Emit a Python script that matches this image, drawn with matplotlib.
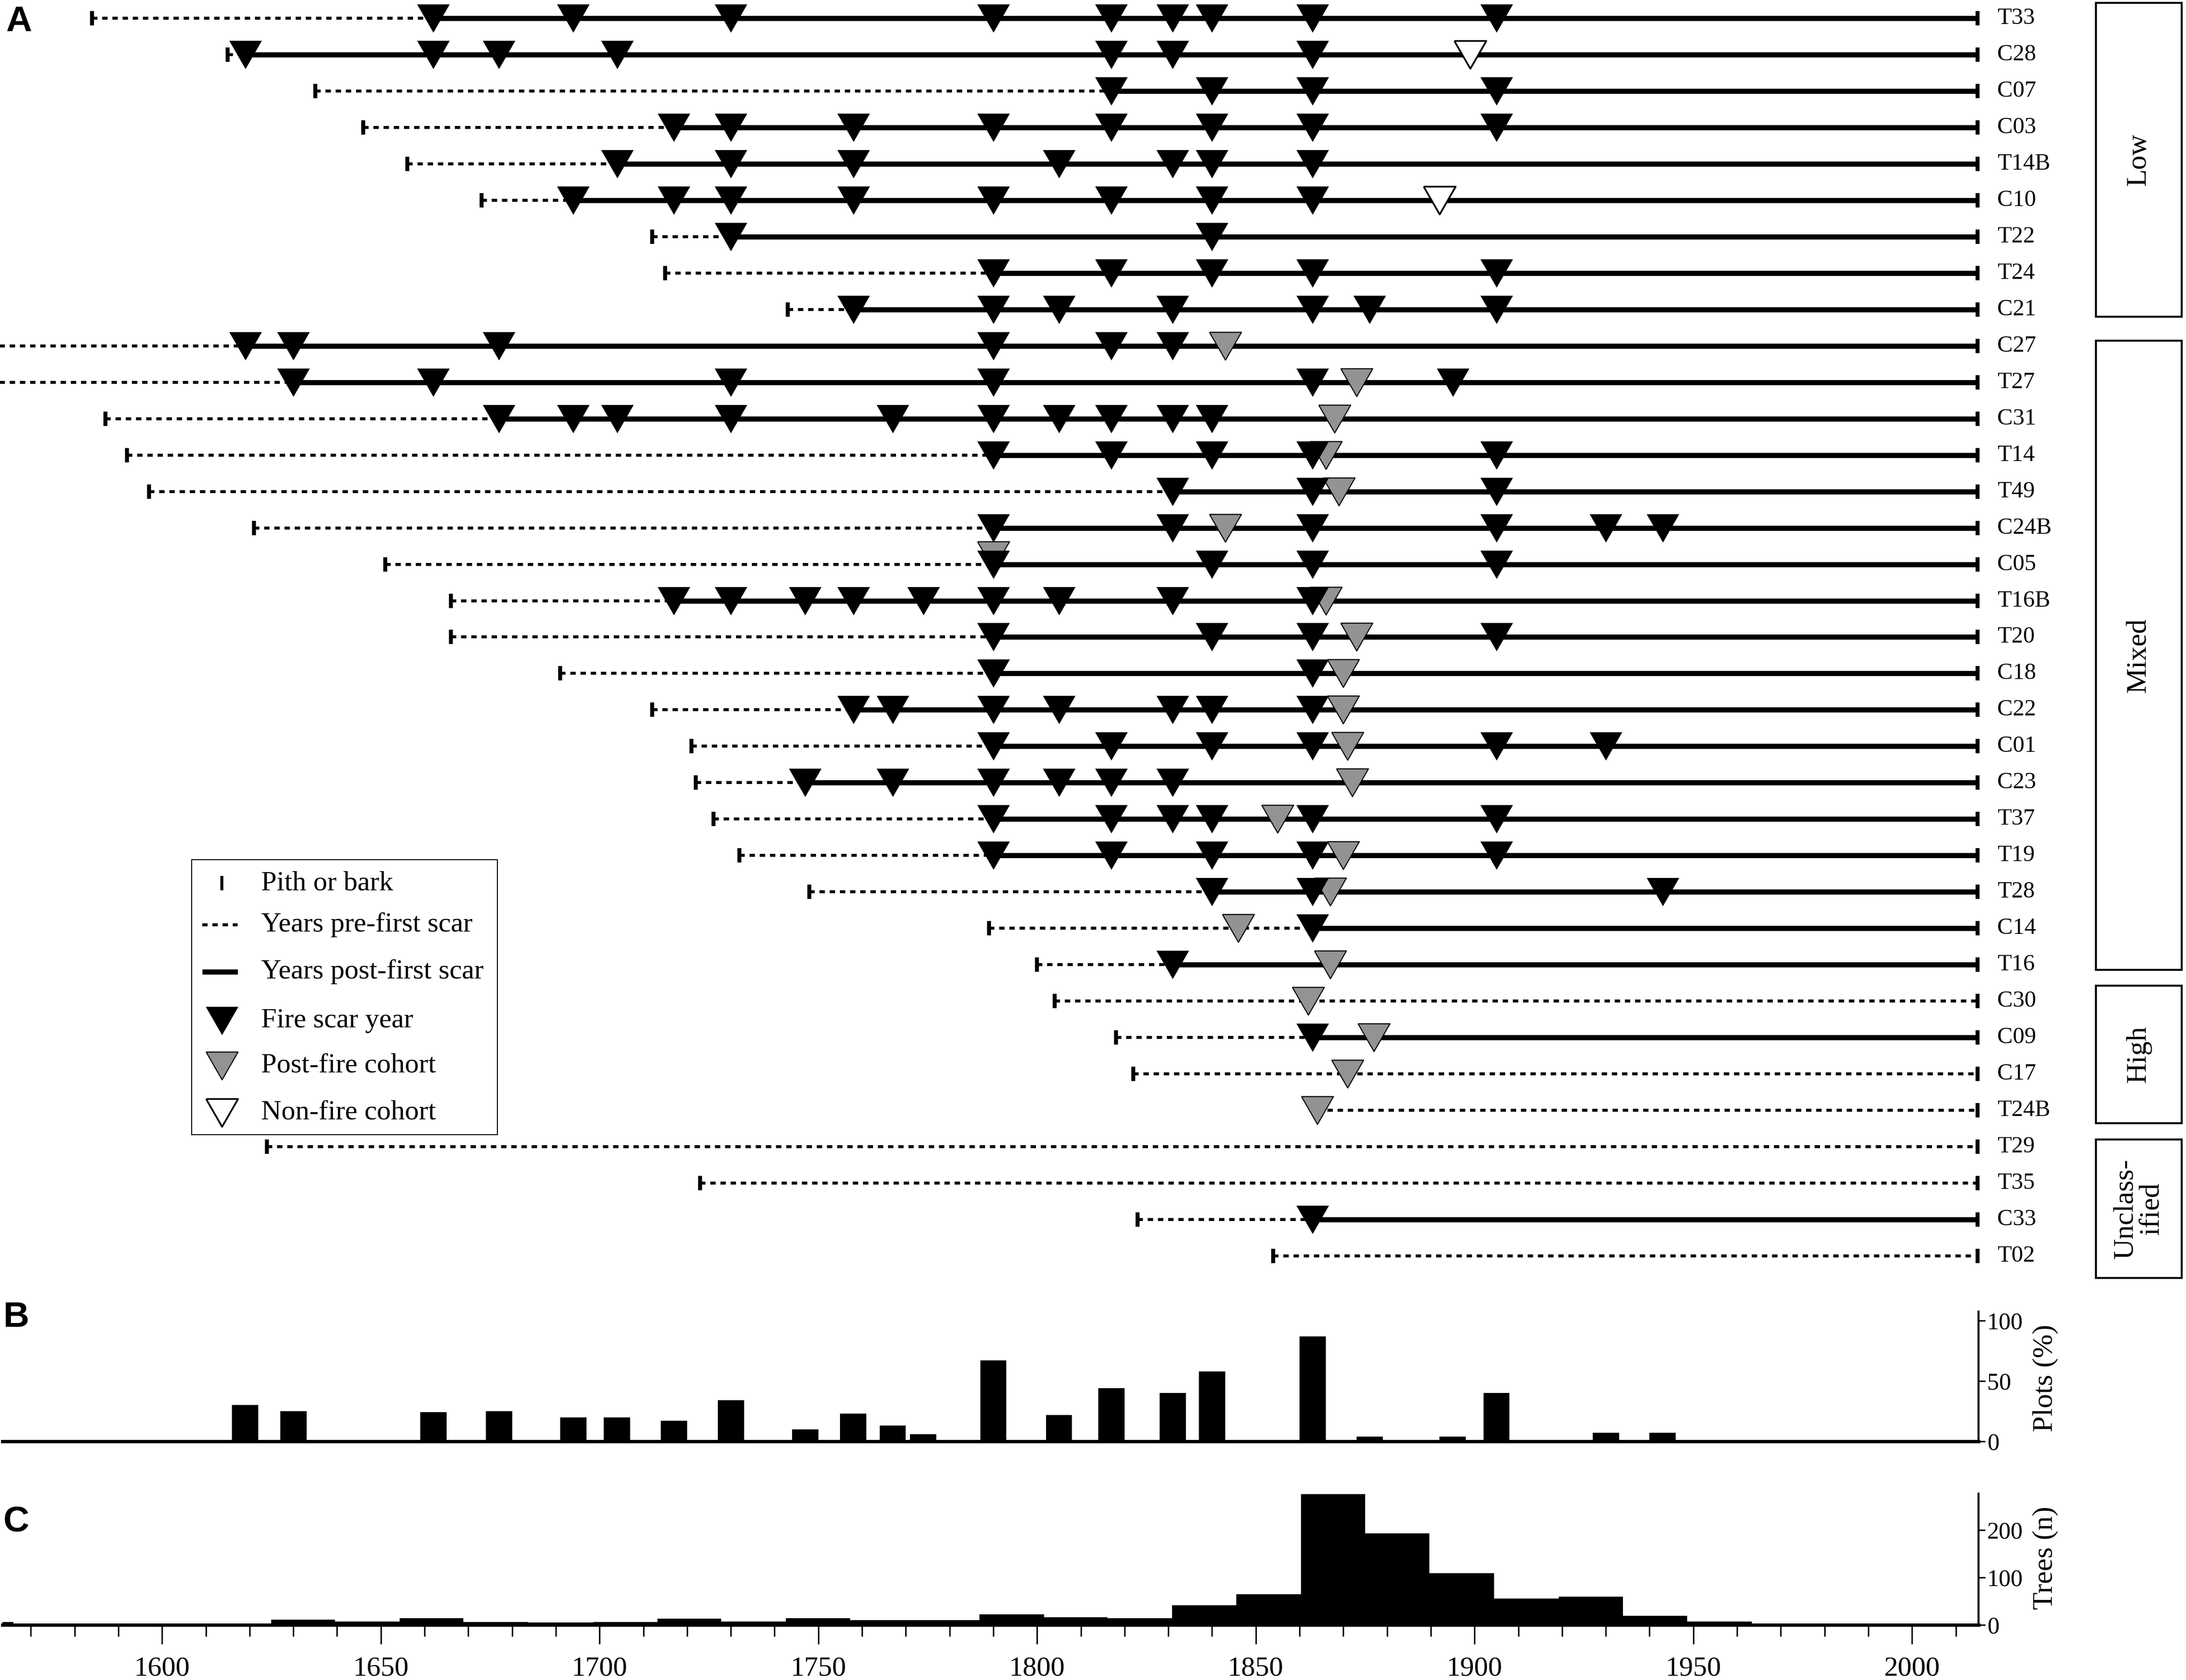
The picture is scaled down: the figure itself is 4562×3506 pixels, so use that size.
# Fire history figure: per-tree scar record (A), plots scarred (B), tree recruitment (C)

from __future__ import annotations

from typing import List, Optional

import matplotlib
matplotlib.use("Agg")
import matplotlib.pyplot as plt
from matplotlib.lines import Line2D
from matplotlib.patches import Rectangle

OUT_PNG = "out.png"
FIG_W, FIG_H = 4562, 3506
DPI = 100

BARK_YEAR = 2015

TREES: List[str] = [
    "T33", "C28", "C07", "C03", "T14B", "C10", "T22", "T24", "C21",
    "C27", "T27", "C31", "T14", "T49", "C24B", "C05", "T16B", "T20", "C18",
    "C22", "C01", "C23", "T37", "T19", "T28", "C14", "T16",
    "C30", "C09", "C17", "T24B",
    "T29", "T35", "C33", "T02",
]
# None = no pith mark (series starts at the cohort triangle)
PITH: List[Optional[int]] = [
    1584, 1615, 1635, 1646, 1656, 1673, 1712, 1715, 1743,
    1550, 1550, 1587, 1592, 1597, 1621, 1651, 1666, 1666, 1691,
    1712, 1721, 1722, 1726, 1732, 1748, 1789, 1800,
    1804, 1818, 1822, None,
    1624, 1723, 1823, 1854,
]
SCARS: List[List[int]] = [
    [1662, 1694, 1730, 1790, 1817, 1831, 1840, 1863, 1905],
    [1619, 1662, 1677, 1704, 1817, 1831, 1863],
    [1817, 1840, 1863, 1905],
    [1717, 1730, 1758, 1790, 1817, 1840, 1863, 1905],
    [1704, 1730, 1758, 1805, 1831, 1840, 1863],
    [1694, 1717, 1730, 1758, 1790, 1817, 1840, 1863],
    [1730, 1840],
    [1790, 1817, 1840, 1863, 1905],
    [1758, 1790, 1805, 1831, 1863, 1876, 1905],
    [1619, 1630, 1677, 1790, 1817, 1831],
    [1630, 1662, 1730, 1790, 1863, 1895],
    [1677, 1694, 1704, 1730, 1767, 1790, 1805, 1817, 1831, 1840],
    [1790, 1817, 1840, 1863, 1905],
    [1831, 1863, 1905],
    [1790, 1831, 1863, 1905, 1930, 1943],
    [1790, 1840, 1863, 1905],
    [1717, 1730, 1747, 1758, 1774, 1790, 1805, 1831, 1863],
    [1790, 1840, 1863, 1905],
    [1790, 1863],
    [1758, 1767, 1790, 1805, 1831, 1840, 1863],
    [1790, 1817, 1840, 1863, 1905, 1930],
    [1747, 1767, 1790, 1805, 1817, 1831],
    [1790, 1817, 1831, 1840, 1863, 1905],
    [1790, 1817, 1840, 1863, 1905],
    [1840, 1863, 1943],
    [1863],
    [1831],
    [],
    [1863],
    [],
    [],
    [],
    [],
    [1863],
    [],
]
POST_FIRE: List[List[int]] = [
    [], [], [], [], [], [], [], [], [],
    [1843], [1873], [1868], [1866], [1869], [1843], [1790], [1866], [1873], [1870],
    [1870], [1871], [1872], [1855], [1870], [1867], [1846], [1867],
    [1862], [1877], [1871], [1864],
    [], [], [], [],
]
NON_FIRE: List[List[int]] = [[] for _ in TREES]
NON_FIRE[1] = [1899]
NON_FIRE[5] = [1892]

GROUPS = ["Low", "Mixed", "High", "Unclass-\nified"]
# box extent in row units (top, bottom)
GROUP_SPANS = [(-0.42, 8.2), (8.86, 26.14), (26.58, 30.35), (30.8, 34.6)]

PLOT_YEARS = [1619, 1630, 1662, 1677, 1694, 1704, 1717, 1730, 1747, 1758, 1767, 1774,
              1790, 1805, 1817, 1831, 1840, 1863, 1876, 1895, 1905, 1930, 1943]
PLOT_PCT = [30, 25, 24, 25, 20, 20, 17, 34, 10, 23, 13, 6,
            67, 22, 44, 40, 58, 87, 4, 4, 40, 7, 7]

COHORT_EDGES = [1551.3, 1566.0, 1580.7, 1595.4, 1610.2, 1624.9, 1639.5, 1654.3, 1668.9,
                1683.7, 1698.5, 1713.2, 1727.8, 1742.6, 1757.3, 1772.0, 1786.8, 1801.6,
                1816.1, 1830.9, 1845.5, 1860.3, 1875.0, 1889.7, 1904.5, 1919.2, 1933.9,
                1948.6, 1963.4, 1978.1, 1992.8, 2007.6]
COHORT_N = [6, 0, 0, 0, 0, 11, 7, 14, 6, 5, 6, 13, 7, 14, 10, 10, 22, 16,
            14, 41, 65, 276, 193, 109, 56, 60, 19, 7, 0, 0, 0]

GRAY = "#939393"
SERIF = "Liberation Serif"
SANS = "Liberation Sans"

# pixel layout of the reference
PX_PER_YEAR = 9.13
X_LEFT_PX, X_LEFT_YEAR = 5, 1563.5
ROW0_PX, ROW_STEP_PX = 38, 75.97

# wide, flat down-pointing triangle (like the original scar symbol)
TRI = [(-1.15, 1.0), (1.15, 1.0), (0.0, -1.0), (-1.15, 1.0)]
TRI_MS = 48
DOT_STYLE = dict(color="black", lw=4.5, linestyle=(0, (1.8, 1.6)), dash_capstyle="butt")
SOLID_STYLE = dict(color="black", lw=7.7, solid_capstyle="butt")
TICK_STYLE = dict(marker="|", ms=21.6, mew=6.0, color="black", linestyle="none")

plt.rcParams["font.family"] = "serif"
plt.rcParams["font.serif"] = [SERIF, "DejaVu Serif"]


def rect_px(left, top, right, bottom):
    return [left / FIG_W, 1 - bottom / FIG_H, (right - left) / FIG_W, (bottom - top) / FIG_H]


def fpt(x, y):
    return x / FIG_W, 1 - y / FIG_H


def tri_kw(face, edge_w):
    return dict(marker=TRI, ms=TRI_MS, mfc=face, mec="black", mew=edge_w, linestyle="none")


def draw_trees(ax):
    for i, name in enumerate(TREES):
        scars, post, non = SCARS[i], POST_FIRE[i], NON_FIRE[i]
        pith = PITH[i]
        start = pith if pith is not None else min(post + non)
        first = min(scars) if scars else BARK_YEAR
        if first > start:
            ax.plot([start, first], [i, i], zorder=2, **DOT_STYLE)
        if scars:
            ax.plot([first, BARK_YEAR], [i, i], zorder=2, **SOLID_STYLE)
        if pith is not None:
            ax.plot([pith], [i], zorder=2, **TICK_STYLE)
        ax.plot([BARK_YEAR], [i], zorder=2, **TICK_STYLE)

        yoff = -0.24 if name == "C05" else 0.0
        if post:
            ax.plot(post, [i + yoff] * len(post), zorder=3, **tri_kw(GRAY, 1.6))
        if scars:
            ax.plot(scars, [i] * len(scars), zorder=4, **tri_kw("black", 0.5))
        if non:
            ax.plot(non, [i] * len(non), zorder=4, **tri_kw("white", 2.6))
        ax.text(BARK_YEAR + 4.5, i, name, ha="left", va="center", fontsize=35)


def draw_groups(ax):
    x0 = X_LEFT_YEAR + (4374 - X_LEFT_PX) / PX_PER_YEAR
    x1 = X_LEFT_YEAR + (4553 - X_LEFT_PX) / PX_PER_YEAR
    for label, (top, bottom) in zip(GROUPS, GROUP_SPANS):
        ax.add_patch(Rectangle((x0, top), x1 - x0, bottom - top, fill=False,
                               lw=3, edgecolor="black", clip_on=False))
        ax.text((x0 + x1) / 2, (top + bottom) / 2, label, rotation=90, ha="center",
                va="center", fontsize=43, linespacing=1.0, multialignment="center")


def draw_legend(fig):
    tr = fig.transFigure
    fig.add_artist(Rectangle(fpt(400, 2368), 638 / FIG_W, 574 / FIG_H, transform=tr,
                             facecolor="white", edgecolor="black", lw=1.5, zorder=5))
    rows_y = [1843, 1930, 2028, 2130, 2224, 2322]
    labels = ["Pith or bark", "Years pre-first scar", "Years post-first scar",
              "Fire scar year", "Post-fire cohort", "Non-fire cohort"]
    mx, lx0, lx1, tx = 463, 422, 496, 545
    for y, label in zip(rows_y, labels):
        fig.text(*fpt(tx, y), label, ha="left", va="center", fontsize=42, zorder=6)
    fig.add_artist(Line2D(*zip(fpt(mx, rows_y[0])), transform=tr, zorder=6,
                          **dict(TICK_STYLE, mew=4.5)))
    (a, b), (c, d) = fpt(lx0, rows_y[1]), fpt(lx1, rows_y[1])
    fig.add_artist(Line2D([a, c], [b, d], transform=tr, zorder=6, **DOT_STYLE))
    (a, b), (c, d) = fpt(lx0, rows_y[2]), fpt(lx1, rows_y[2])
    fig.add_artist(Line2D([a, c], [b, d], transform=tr, zorder=6, **SOLID_STYLE))
    for y, fc, ew in zip(rows_y[3:], ["black", GRAY, "white"], [0.5, 1.6, 2.6]):
        fig.add_artist(Line2D(*zip(fpt(mx, y)), transform=tr, zorder=6, **tri_kw(fc, ew)))


def style_right_axis(ax):
    for s in ("top", "left"):
        ax.spines[s].set_visible(False)
    ax.spines["right"].set_linewidth(3)
    ax.spines["bottom"].set_linewidth(5)
    ax.yaxis.tick_right()
    ax.tick_params(axis="y", direction="out", length=10, width=2.2, pad=3, labelsize=36)
    ax.set_xlim(X_LEFT_YEAR, X_LEFT_YEAR + (4129 - X_LEFT_PX) / PX_PER_YEAR)


def main() -> None:
    fig = plt.figure(figsize=(FIG_W / DPI, FIG_H / DPI), dpi=DPI)

    # panel A
    ax_a = fig.add_axes(rect_px(0, 0, FIG_W, 2680))
    ax_a.set_xlim(X_LEFT_YEAR - X_LEFT_PX / PX_PER_YEAR,
                  X_LEFT_YEAR + (FIG_W - X_LEFT_PX) / PX_PER_YEAR)
    ax_a.set_ylim((2680 - ROW0_PX) / ROW_STEP_PX, -ROW0_PX / ROW_STEP_PX)
    ax_a.axis("off")
    draw_trees(ax_a)
    draw_groups(ax_a)
    draw_legend(fig)

    # panel B
    ax_b = fig.add_axes(rect_px(X_LEFT_PX, 2737, 4129, 3008))
    ax_b.bar(PLOT_YEARS, PLOT_PCT, width=6, color="black", zorder=2)
    style_right_axis(ax_b)
    ax_b.set_ylim(0, 107.5)
    ax_b.set_yticks([0, 50, 100])
    ax_b.set_xticks([])
    fig.text(*fpt(4268, 2876), "Plots (%)", rotation=90, ha="center", va="center", fontsize=43)

    # panel C
    ax_c = fig.add_axes(rect_px(X_LEFT_PX, 3117, 4129, 3391))
    ax_c.stairs(COHORT_N, COHORT_EDGES, fill=True, color="black", lw=0, zorder=2)
    style_right_axis(ax_c)
    ax_c.set_ylim(0, 277)
    ax_c.set_yticks([0, 100, 200])
    ax_c.set_xticks(list(range(1600, 2001, 50)))
    ax_c.set_xticks(list(range(1570, 2011, 10)), minor=True)
    ax_c.tick_params(axis="x", which="major", direction="out", length=29, width=2.2,
                     pad=18, labelsize=42)
    ax_c.tick_params(axis="x", which="minor", direction="out", length=17, width=2.2)
    fig.text(*fpt(4268, 3251), "Trees (n)", rotation=90, ha="center", va="center", fontsize=43)

    for letter, (x, y) in zip("ABC", [(12, 11), (7, 2715), (7, 3141)]):
        fig.text(*fpt(x, y), letter, ha="left", va="top", fontsize=54,
                 fontweight="bold", family=SANS)

    fig.savefig(OUT_PNG, dpi=DPI)
    plt.close(fig)


if __name__ == "__main__":
    main()
